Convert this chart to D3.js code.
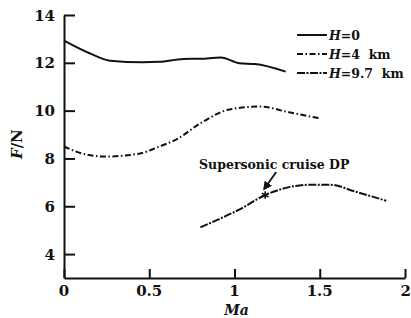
<!DOCTYPE html>
<html>
<head>
<meta charset="utf-8">
<script src="https://cdn.jsdelivr.net/npm/d3@7"></script>
<style>
  body { margin: 0; background: #fff; }
  svg text { font-family: "DejaVu Serif", "Liberation Serif", serif; font-weight: bold; fill: #111; }
</style>
</head>
<body>
<div id="chart"></div>
<script>
  // thrust vs Mach number
  const ma0 = [0, 0.15, 0.27, 0.46, 0.56, 0.70, 0.80, 0.92, 1.03, 1.12, 1.30];
  const f0 = [12.93, 12.4, 12.09, 12.02, 12.04, 12.16, 12.17, 12.22, 11.98, 11.95, 11.63];

  const ma4 = [0, 0.1, 0.24, 0.44, 0.56, 0.66, 0.80, 0.97, 1.15, 1.32, 1.50];
  const f4 = [8.5, 8.22, 8.08, 8.2, 8.5, 8.8, 9.47, 10.05, 10.17, 9.93, 9.68];

  const ma97 = [0.80, 0.89, 1.03, 1.18, 1.32, 1.44, 1.56, 1.71, 1.89];
  const f97 = [5.12, 5.4, 5.87, 6.47, 6.8, 6.9, 6.9, 6.61, 6.23];

  const seriesNames = ["H=0", "H=4 km", "H=9.7 km"];
  const xTicks = [0, 0.5, 1, 1.5, 2];
  const yTicks = [4, 6, 8, 10, 12, 14];
  const dpPoint = [1.18, 6.47];
  const dpLabel = "Supersonic cruise DP";

  const W = 411, H = 318;
  const margin = {top: 15, right: 6, bottom: 40, left: 64};

  const svg = d3.select("#chart").append("svg")
    .attr("width", W).attr("height", H);

  const x = d3.scaleLinear().domain([0, 2]).range([margin.left, W - margin.right]);
  const y = d3.scaleLinear().domain([3, 14]).range([H - margin.bottom, margin.top]);

  // axes, ticks pointing inward
  const gx = svg.append("g")
    .attr("transform", `translate(0, ${y(3)})`)
    .call(d3.axisTop(x).tickValues(xTicks).tickSize(9).tickSizeOuter(0));
  gx.selectAll("text").remove();
  svg.append("g").selectAll("text")
    .data(xTicks).join("text")
      .attr("x", d => x(d))
      .attr("y", y(3) + 18)
      .attr("text-anchor", d => d == 2 ? "end" : "middle")
      .attr("dx", d => d == 2 ? 6 : 0)
      .style("font-size", "15px")
      .text(d => d);

  const gy = svg.append("g")
    .attr("transform", `translate(${x(0)}, 0)`)
    .call(d3.axisRight(y).tickValues(yTicks).tickSize(11).tickSizeOuter(0));
  gy.selectAll("text").remove();
  svg.append("g").selectAll("text")
    .data(yTicks).join("text")
      .attr("x", x(0) - 9)
      .attr("y", d => y(d) + 5.5)
      .attr("text-anchor", "end")
      .style("font-size", "15px")
      .text(d => d);

  svg.selectAll(".domain, .tick line")
    .attr("stroke", "#111").attr("stroke-width", 2);

  // axis titles
  svg.append("text")
    .attr("x", x(1) + 2).attr("y", H - 3)
    .attr("text-anchor", "middle")
    .style("font-size", "14px").style("font-style", "italic")
    .text("Ma");

  const yt = svg.append("text")
    .attr("transform", `translate(22, ${y(8.6)}) rotate(-90)`)
    .attr("text-anchor", "middle")
    .style("font-size", "15px");
  yt.append("tspan").style("font-style", "italic").text("F");
  yt.append("tspan").text("/N");

  // curves
  const series = [
    {ma: ma0, f: f0, dash: null},
    {ma: ma4, f: f4, dash: "6,2.5,1.5,2.5"},
    {ma: ma97, f: f97, dash: "8,1.5,2,1.5"}
  ];
  const line = d3.line()
    .curve(d3.curveMonotoneX)
    .x(d => x(d[0]))
    .y(d => y(d[1]));

  svg.append("g").selectAll("path")
    .data(series).join("path")
      .attr("d", s => line(s.ma.map((m, i) => [m, s.f[i]])))
      .attr("fill", "none")
      .attr("stroke", "#111")
      .attr("stroke-width", 2)
      .attr("stroke-dasharray", s => s.dash);

  // legend
  const lg = svg.append("g").attr("transform", "translate(297, 35)");
  seriesNames.forEach((name, i) => {
    const row = lg.append("g").attr("transform", `translate(0, ${i * 19})`);
    row.append("line")
      .attr("x1", 0).attr("x2", 30)
      .attr("stroke", "#111").attr("stroke-width", 2)
      .attr("stroke-dasharray", series[i].dash);
    const t = row.append("text")
      .attr("x", 32).attr("y", 4.5)
      .style("font-size", "12.5px");
    t.append("tspan").style("font-style", "italic").text("H");
    t.append("tspan").text(name.slice(1).replace(" ", "\u00a0 "));
  });

  // design point annotation
  const px = x(dpPoint[0]), py = y(dpPoint[1]);
  svg.append("path")
    .attr("d", d3.symbol(d3.symbolAsterisk, 40)())
    .attr("transform", `translate(${px}, ${py})`)
    .attr("fill", "none").attr("stroke", "#111").attr("stroke-width", 1.6);

  svg.append("defs").append("marker")
    .attr("id", "arrow")
    .attr("viewBox", "0 0 10 10").attr("refX", 8).attr("refY", 5)
    .attr("markerWidth", 5).attr("markerHeight", 5)
    .attr("orient", "auto")
    .append("path").attr("d", "M0,0L10,5L0,10z").attr("fill", "#111");

  svg.append("line")
    .attr("x1", px + 11).attr("y1", py - 23)
    .attr("x2", px - 1).attr("y2", py - 6)
    .attr("stroke", "#111").attr("stroke-width", 1.8)
    .attr("marker-end", "url(#arrow)");

  svg.append("text")
    .attr("x", px + 9).attr("y", py - 26)
    .attr("text-anchor", "middle")
    .style("font-size", "12.5px")
    .text(dpLabel);
</script>
</body>
</html>
